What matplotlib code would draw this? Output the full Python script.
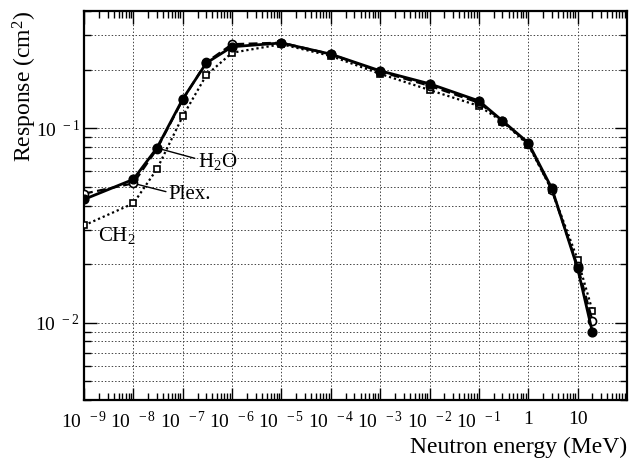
import matplotlib
matplotlib.use("Agg")
import matplotlib.pyplot as plt
from matplotlib.ticker import FixedLocator, FixedFormatter, NullFormatter, LogLocator

plt.rcParams['font.family'] = ['Liberation Serif', 'DejaVu Serif']
plt.rcParams['mathtext.fontset'] = 'custom'
plt.rcParams['mathtext.rm'] = 'Liberation Serif'
plt.rcParams['mathtext.it'] = 'Liberation Serif:italic'
plt.rcParams['mathtext.bf'] = 'Liberation Serif:bold'

# ---- data ----
energy = [1e-9, 1e-8, 3e-8, 1e-7, 3e-7, 1e-6, 1e-5, 1e-4, 1e-3, 1e-2, 1e-1, 0.3, 1, 3, 10, 20]
h2o = [0.043, 0.0545, 0.079, 0.141, 0.216, 0.262, 0.274, 0.240, 0.197, 0.169, 0.138, 0.109, 0.084, 0.049, 0.019, 0.0089]
plex = [0.046, 0.052, 0.078, 0.140, 0.218, 0.270, 0.275, 0.240, 0.195, 0.165, 0.135, 0.109, 0.083, 0.048, 0.0195, 0.0102]
ch2 = [0.0316, 0.041, 0.0615, 0.115, 0.187, 0.244, 0.270, 0.235, 0.190, 0.157, 0.130, 0.108, 0.082, 0.048, 0.0211, 0.0115]

xticks = [1e-9, 1e-8, 1e-7, 1e-6, 1e-5, 1e-4, 1e-3, 1e-2, 1e-1, 1, 10]
xtick_labels = [r"$10^{\enspace\,-9}$", r"$10^{\enspace\,-8}$", r"$10^{\enspace\,-7}$",
                r"$10^{\enspace\,-6}$", r"$10^{\enspace\,-5}$", r"$10^{\enspace\,-4}$",
                r"$10^{\enspace\,-3}$", r"$10^{\enspace\,-2}$", r"$10^{\enspace\,-1}$",
                "1", "10"]
yticks = [1e-2, 1e-1]
ytick_labels = [r"$10^{\enspace-2}$", r"$10^{\enspace-1}$"]

fig = plt.figure(figsize=(6.29, 4.61), dpi=100)
ax = fig.add_axes([84/629, 1-400/461, (627-84)/629, (400-11)/461])
ax.set_xscale('log')
ax.set_yscale('log')
ax.set_xlim(1e-9, 1e2)
ax.set_ylim(0.004, 0.4)

# grid
gkw = dict(color='#444444', linestyle=(0, (1.5, 2.0)), linewidth=0.7)
ax.grid(True, which='major', axis='both', **gkw)
ax.grid(True, which='minor', axis='y', **gkw)
ax.set_axisbelow(True)

ax.plot(energy, ch2, linestyle=(0, (1, 1.3)), color='black', linewidth=1.6,
        marker='s', markersize=4.8, markerfacecolor='white', markeredgecolor='black',
        markeredgewidth=1.2, zorder=3)
ax.plot(energy, plex, linestyle=(0, (4, 2)), color='black', linewidth=1.6,
        marker='o', markersize=5.8, markerfacecolor='white', markeredgecolor='black',
        markeredgewidth=1.2, zorder=4)
ax.plot(energy, h2o, linestyle='-', color='black', linewidth=2.0,
        marker='o', markersize=6.3, markerfacecolor='black', markeredgecolor='black', zorder=5)

# labels with leader lines
akw = dict(fontsize=15, ha='left', va='center',
           arrowprops=dict(arrowstyle='-', color='black', lw=1.0, shrinkA=0, shrinkB=0,
                           relpos=(0, 0.6)))
ax.annotate(r"H$_2$O", xy=(energy[2], h2o[2]), xytext=(2.0e-7, 0.0676), **akw)
ax.annotate("Plex.", xy=(energy[1], plex[1]), xytext=(5.2e-8, 0.0457), **akw)
ax.text(1.92e-9, 0.028, r"CH$_2$", fontsize=15, ha='left', va='center')

# ticks
ax.xaxis.set_major_locator(FixedLocator(xticks))
ax.xaxis.set_major_formatter(FixedFormatter(xtick_labels))
ax.xaxis.set_minor_locator(LogLocator(base=10, subs=range(2, 10), numticks=30))
ax.xaxis.set_minor_formatter(NullFormatter())
ax.yaxis.set_major_locator(FixedLocator(yticks))
ax.yaxis.set_major_formatter(FixedFormatter(ytick_labels))
ax.yaxis.set_minor_locator(LogLocator(base=10, subs=range(2, 10), numticks=30))
ax.yaxis.set_minor_formatter(NullFormatter())
ax.tick_params(which='both', direction='in', top=True, right=True, width=1.0, color='black')
ax.tick_params(which='major', length=9)
ax.tick_params(which='minor', length=5)
ax.tick_params(axis='x', which='major', labelsize=14, pad=8)
ax.tick_params(axis='y', which='major', labelsize=14, pad=3)

for s in ax.spines.values():
    s.set_linewidth(1.6)

ax.set_xlabel("Neutron energy (MeV)", fontsize=17, loc='right')
ax.xaxis.set_label_coords(1.0, -0.095)
ax.set_ylabel(r"Response (cm$^2$)", fontsize=17, loc='top')
ax.yaxis.set_label_coords(-0.082, 1.0)

fig.savefig("out.png", dpi=100)
